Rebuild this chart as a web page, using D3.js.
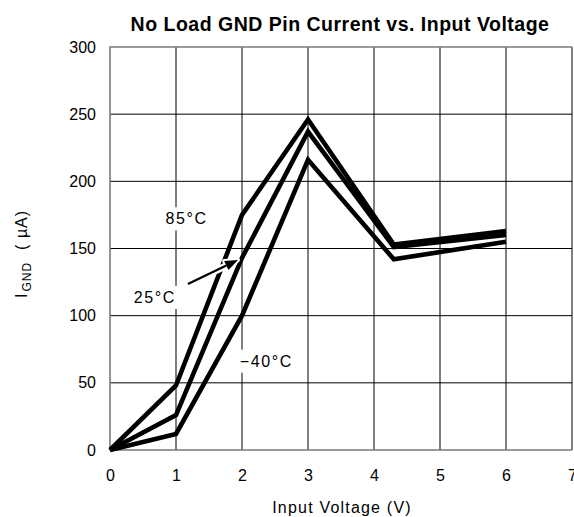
<!DOCTYPE html>
<html>
<head>
<meta charset="utf-8">
<script src="https://cdn.jsdelivr.net/npm/d3@7"></script>
<style>
  html, body { margin: 0; padding: 0; background: #fff; }
  svg { display: block; font-family: "Liberation Sans", Arial, Helvetica, sans-serif; }
</style>
</head>
<body>
<svg id="chart" width="574" height="517"></svg>
<script>
// ---- data ----
const xTicks = [0, 1, 2, 3, 4, 5, 6, 7];
const yTicks = [0, 50, 100, 150, 200, 250, 300];
const voltage = [0, 1, 2, 3, 4.3, 6];
const series85 = [0, 48, 175, 246, 153, 163];
const series25 = [0, 26, 143, 237, 151, 160];
const seriesM40 = [0, 12, 100, 216, 142, 155];
const seriesNames = ["85°C", "25°C", "−40°C"];
// label anchor positions in data units (x in V, y in µA)
const labelX = [1.16, 0.68, 2.37];
const labelY = [168, 109.5, 62];
// arrow from the 25°C label to its curve (data units)
const arrowFrom = [1.18, 123.5];
const arrowTo = [1.94, 141.5];

const title = "No Load GND Pin Current vs. Input Voltage";
const xTitle = "Input Voltage (V)";

// ---- layout ----
const svg = d3.select("#chart");
const pLeft = 110, pRight = 572, pTop = 47, pBottom = 450;
const x = d3.scaleLinear().domain([0, 7]).range([pLeft, pRight]);
const y = d3.scaleLinear().domain([0, 300]).range([pBottom, pTop]);

// gridlines
const grid = svg.append("g");
grid.selectAll("line.v").data(xTicks.filter(d => d > 0)).join("line")
  .attr("x1", d => x(d)).attr("x2", d => x(d))
  .attr("y1", pTop).attr("y2", pBottom)
  .attr("stroke", "#000").attr("stroke-width", 1);
grid.selectAll("line.h").data(yTicks.filter(d => d > 0 && d < 300)).join("line")
  .attr("x1", pLeft).attr("x2", pRight)
  .attr("y1", d => y(d)).attr("y2", d => y(d))
  .attr("stroke", "#000").attr("stroke-width", 1);
// frame (left, top, bottom gray)
svg.append("path")
  .attr("d", `M${pRight},${pTop}H${pLeft}V${pBottom}H${pRight}`)
  .attr("fill", "none").attr("stroke", "#7a7a7a").attr("stroke-width", 1.6);

// axes labels via d3 axes
const xAxis = d3.axisBottom(x).tickValues(xTicks).tickSize(0).tickPadding(20).tickFormat(d3.format("d"));
const gx = svg.append("g").attr("transform", `translate(0,${pBottom})`).call(xAxis);
gx.select(".domain").remove();
gx.selectAll("text").attr("font-size", 16).attr("fill", "#000")
  .attr("font-family", "Liberation Sans, Arial, sans-serif");

const yAxis = d3.axisLeft(y).tickValues(yTicks).tickSize(0).tickPadding(14).tickFormat(d3.format("d"));
const gy = svg.append("g").attr("transform", `translate(${pLeft},0)`).call(yAxis);
gy.select(".domain").remove();
gy.selectAll("text").attr("font-size", 16).attr("fill", "#000")
  .attr("font-family", "Liberation Sans, Arial, sans-serif");

// label backgrounds (white) and labels
const labels = svg.append("g");
seriesNames.forEach((name, i) => {
  const t = labels.append("text")
    .attr("x", x(labelX[i])).attr("y", y(labelY[i]))
    .attr("text-anchor", "middle").attr("font-size", 16).attr("fill", "#000")
    .attr("letter-spacing", 1.6)
    .text(name);
  const bb = t.node().getBBox();
  labels.insert("rect", "text")
    .attr("x", bb.x - 2).attr("y", bb.y - 3)
    .attr("width", bb.width + 4).attr("height", bb.height + 6)
    .attr("fill", "#fff");
});

// curves
const line = d3.line().x((d, i) => x(voltage[i])).y(d => y(d));
const curves = svg.append("g");
[seriesM40, series25, series85].forEach(s => {
  curves.append("path").attr("d", line(s))
    .attr("fill", "none").attr("stroke", "#000")
    .attr("stroke-width", 4.6).attr("stroke-linejoin", "miter").attr("stroke-miterlimit", 10);
});

// arrow with white halo
const ax1 = x(arrowFrom[0]), ay1 = y(arrowFrom[1]);
const ax2 = x(arrowTo[0]), ay2 = y(arrowTo[1]);
const ang = Math.atan2(ay2 - ay1, ax2 - ax1);
const headLen = 13, headW = 5;
const bx = ax2 - headLen * Math.cos(ang), by = ay2 - headLen * Math.sin(ang);
const head = [
  [ax2, ay2],
  [bx + headW * Math.sin(ang), by - headW * Math.cos(ang)],
  [bx - headW * Math.sin(ang), by + headW * Math.cos(ang)]
];
const arrow = svg.append("g");
arrow.append("line").attr("x1", ax1).attr("y1", ay1).attr("x2", bx).attr("y2", by)
  .attr("stroke", "#fff").attr("stroke-width", 7);
arrow.append("polygon").attr("points", head.map(p => p.join(",")).join(" "))
  .attr("fill", "#fff").attr("stroke", "#fff").attr("stroke-width", 4).attr("stroke-linejoin", "round");
arrow.append("line").attr("x1", ax1).attr("y1", ay1).attr("x2", bx).attr("y2", by)
  .attr("stroke", "#000").attr("stroke-width", 2.2);
arrow.append("polygon").attr("points", head.map(p => p.join(",")).join(" "))
  .attr("fill", "#000");

// title
svg.append("text").attr("x", 340).attr("y", 30.5)
  .attr("text-anchor", "middle").attr("font-size", 19.5).attr("font-weight", "bold")
  .attr("letter-spacing", 0.5)
  .attr("fill", "#000").text(title);

// x-axis title
svg.append("text").attr("x", 342).attr("y", 513)
  .attr("text-anchor", "middle").attr("font-size", 16).attr("fill", "#000")
  .attr("letter-spacing", 1.2)
  .text(xTitle);

// y-axis title: I_GND ( µA)
const yt = svg.append("text").attr("transform", "translate(27,298) rotate(-90)")
  .attr("font-size", 16).attr("fill", "#000").attr("letter-spacing", 1);
yt.append("tspan").text("I");
yt.append("tspan").attr("font-size", 12).attr("dy", 4).attr("dx", 1).text("GND");
yt.append("tspan").attr("dy", -4).attr("dx", 12).text("( µA)");
</script>
</body>
</html>
